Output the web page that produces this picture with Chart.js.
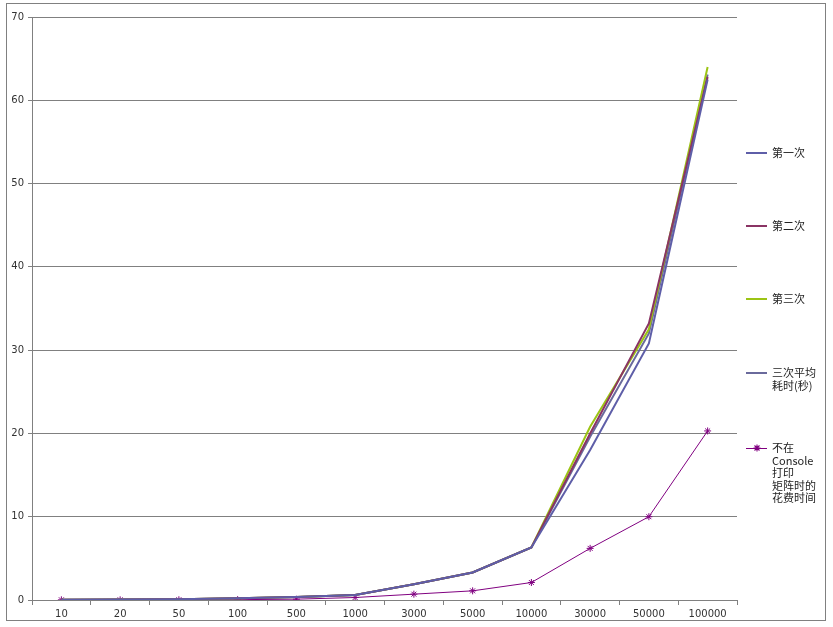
<!DOCTYPE html>
<html><head><meta charset="utf-8">
<script src="https://cdn.jsdelivr.net/npm/chart.js@4/dist/chart.umd.min.js"></script>
<style>
html,body{margin:0;padding:0;background:#fff;}
#wrap{position:relative;width:833px;height:627px;overflow:hidden;}
#frame{position:absolute;left:6px;top:3px;width:820px;height:618px;border:1px solid #808080;box-sizing:border-box;pointer-events:none;}
canvas{position:absolute;left:0;top:0;}
.lg{position:absolute;left:746px;font-family:"Noto Sans CJK SC",sans-serif;font-size:11px;line-height:12.5px;color:#222;}
.lg .sw{position:absolute;left:0;width:21px;height:2px;}
.lg svg{position:absolute;left:7px;top:3px;}
.lg .tx{position:absolute;left:26px;white-space:nowrap;}
</style></head>
<body><div id="wrap"><canvas id="c" width="833" height="627"></canvas><div id="frame"></div></div>
<script>
const categories = ['10','20','50','100','500','1000','3000','5000','10000','30000','50000','100000'];
const run1 = [0.03,0.05,0.1,0.2,0.35,0.6,1.9,3.3,6.3,18.0,30.8,62.5];
const run2 = [0.03,0.05,0.1,0.2,0.35,0.6,1.9,3.3,6.3,20.0,33.2,62.8];
const run3 = [0.03,0.05,0.1,0.2,0.35,0.6,1.9,3.3,6.3,20.8,32.5,64.0];
const avg3 = [0.03,0.05,0.1,0.2,0.35,0.6,1.9,3.3,6.3,19.6,32.0,63.1];
const noConsole = [0.02,0.02,0.03,0.04,0.1,0.3,0.7,1.1,2.1,6.2,10.0,20.3];
const seriesNames = [['第一次'],['第二次'],['第三次'],['三次平均','耗时(秒)'],['不在','Console','打印','矩阵时的','花费时间']];
const yTicks = [0,10,20,30,40,50,60,70];

const colors = ['#5E5EA8','#8A3464','#9CC414','#6A6A9C','#800080'];
const values = [run1,run2,run3,avg3,noConsole];
const datasets = values.map((v,i)=>({
  label: seriesNames[i].join(''),
  data: v,
  borderColor: colors[i],
  backgroundColor: colors[i],
  borderWidth: i===4 ? 1 : 2,
  pointRadius: i===4 ? 3.5 : 0,
  pointStyle: 'star',
  pointBorderWidth: 1,
  tension: 0,
  fill: false
}));

new Chart(document.getElementById('c'), {
  type: 'line',
  data: { labels: categories, datasets },
  options: {
    responsive: false,
    animation: false,
    devicePixelRatio: 1,
    layout: { padding: { left: 0, right: 96, top: 17, bottom: 0 } },
    plugins: { legend: { display: false }, tooltip: { enabled: false } },
    scales: {
      x: {
        offset: true,
        grid: { offset: true, drawOnChartArea: false, drawTicks: true, tickLength: 5, color: '#808080' },
        border: { display: true, color: '#808080', width: 1 },
        ticks: { color: '#333', font: { family: 'DejaVu Sans', size: 10 }, padding: 3, maxRotation: 0, autoSkip: false },
        afterFit: s => { s.height = 27; }
      },
      y: {
        min: 0, max: 70,
        afterBuildTicks: s => { s.ticks = yTicks.map(v=>({value:v})); },
        grid: { color: '#808080', lineWidth: 1, drawTicks: true, tickLength: 4 },
        border: { display: true, color: '#808080', width: 1 },
        ticks: { color: '#333', font: { family: 'DejaVu Sans', size: 10 }, padding: 4 },
        afterFit: s => { s.width = 32; }
      }
    }
  }
});

const legendTops = [153,226,299,373,448];
const wrap = document.getElementById('wrap');
seriesNames.forEach((lines,i)=>{
  const d = document.createElement('div');
  d.className = 'lg';
  d.style.top = (legendTops[i]-7) + 'px';
  const sw = document.createElement('div');
  sw.className = 'sw';
  sw.style.background = colors[i];
  sw.style.top = i===4 ? '7px' : '6px';
  sw.style.height = i===4 ? '1px' : '2px';
  d.appendChild(sw);
  if (i===4) {
    const ns = 'http://www.w3.org/2000/svg';
    const svg = document.createElementNS(ns,'svg');
    svg.setAttribute('width','8'); svg.setAttribute('height','8');
    svg.setAttribute('viewBox','0 0 8 8');
    svg.innerHTML = '<path d="M4 0.5V7.5M0.5 4H7.5M1.5 1.5L6.5 6.5M6.5 1.5L1.5 6.5" stroke="'+colors[i]+'" stroke-width="1.1" fill="none"/>';
    d.appendChild(svg);
  }
  const tx = document.createElement('div');
  tx.className = 'tx';
  tx.innerHTML = lines.join('<br>');
  d.appendChild(tx);
  wrap.appendChild(d);
});
</script>
</body></html>
